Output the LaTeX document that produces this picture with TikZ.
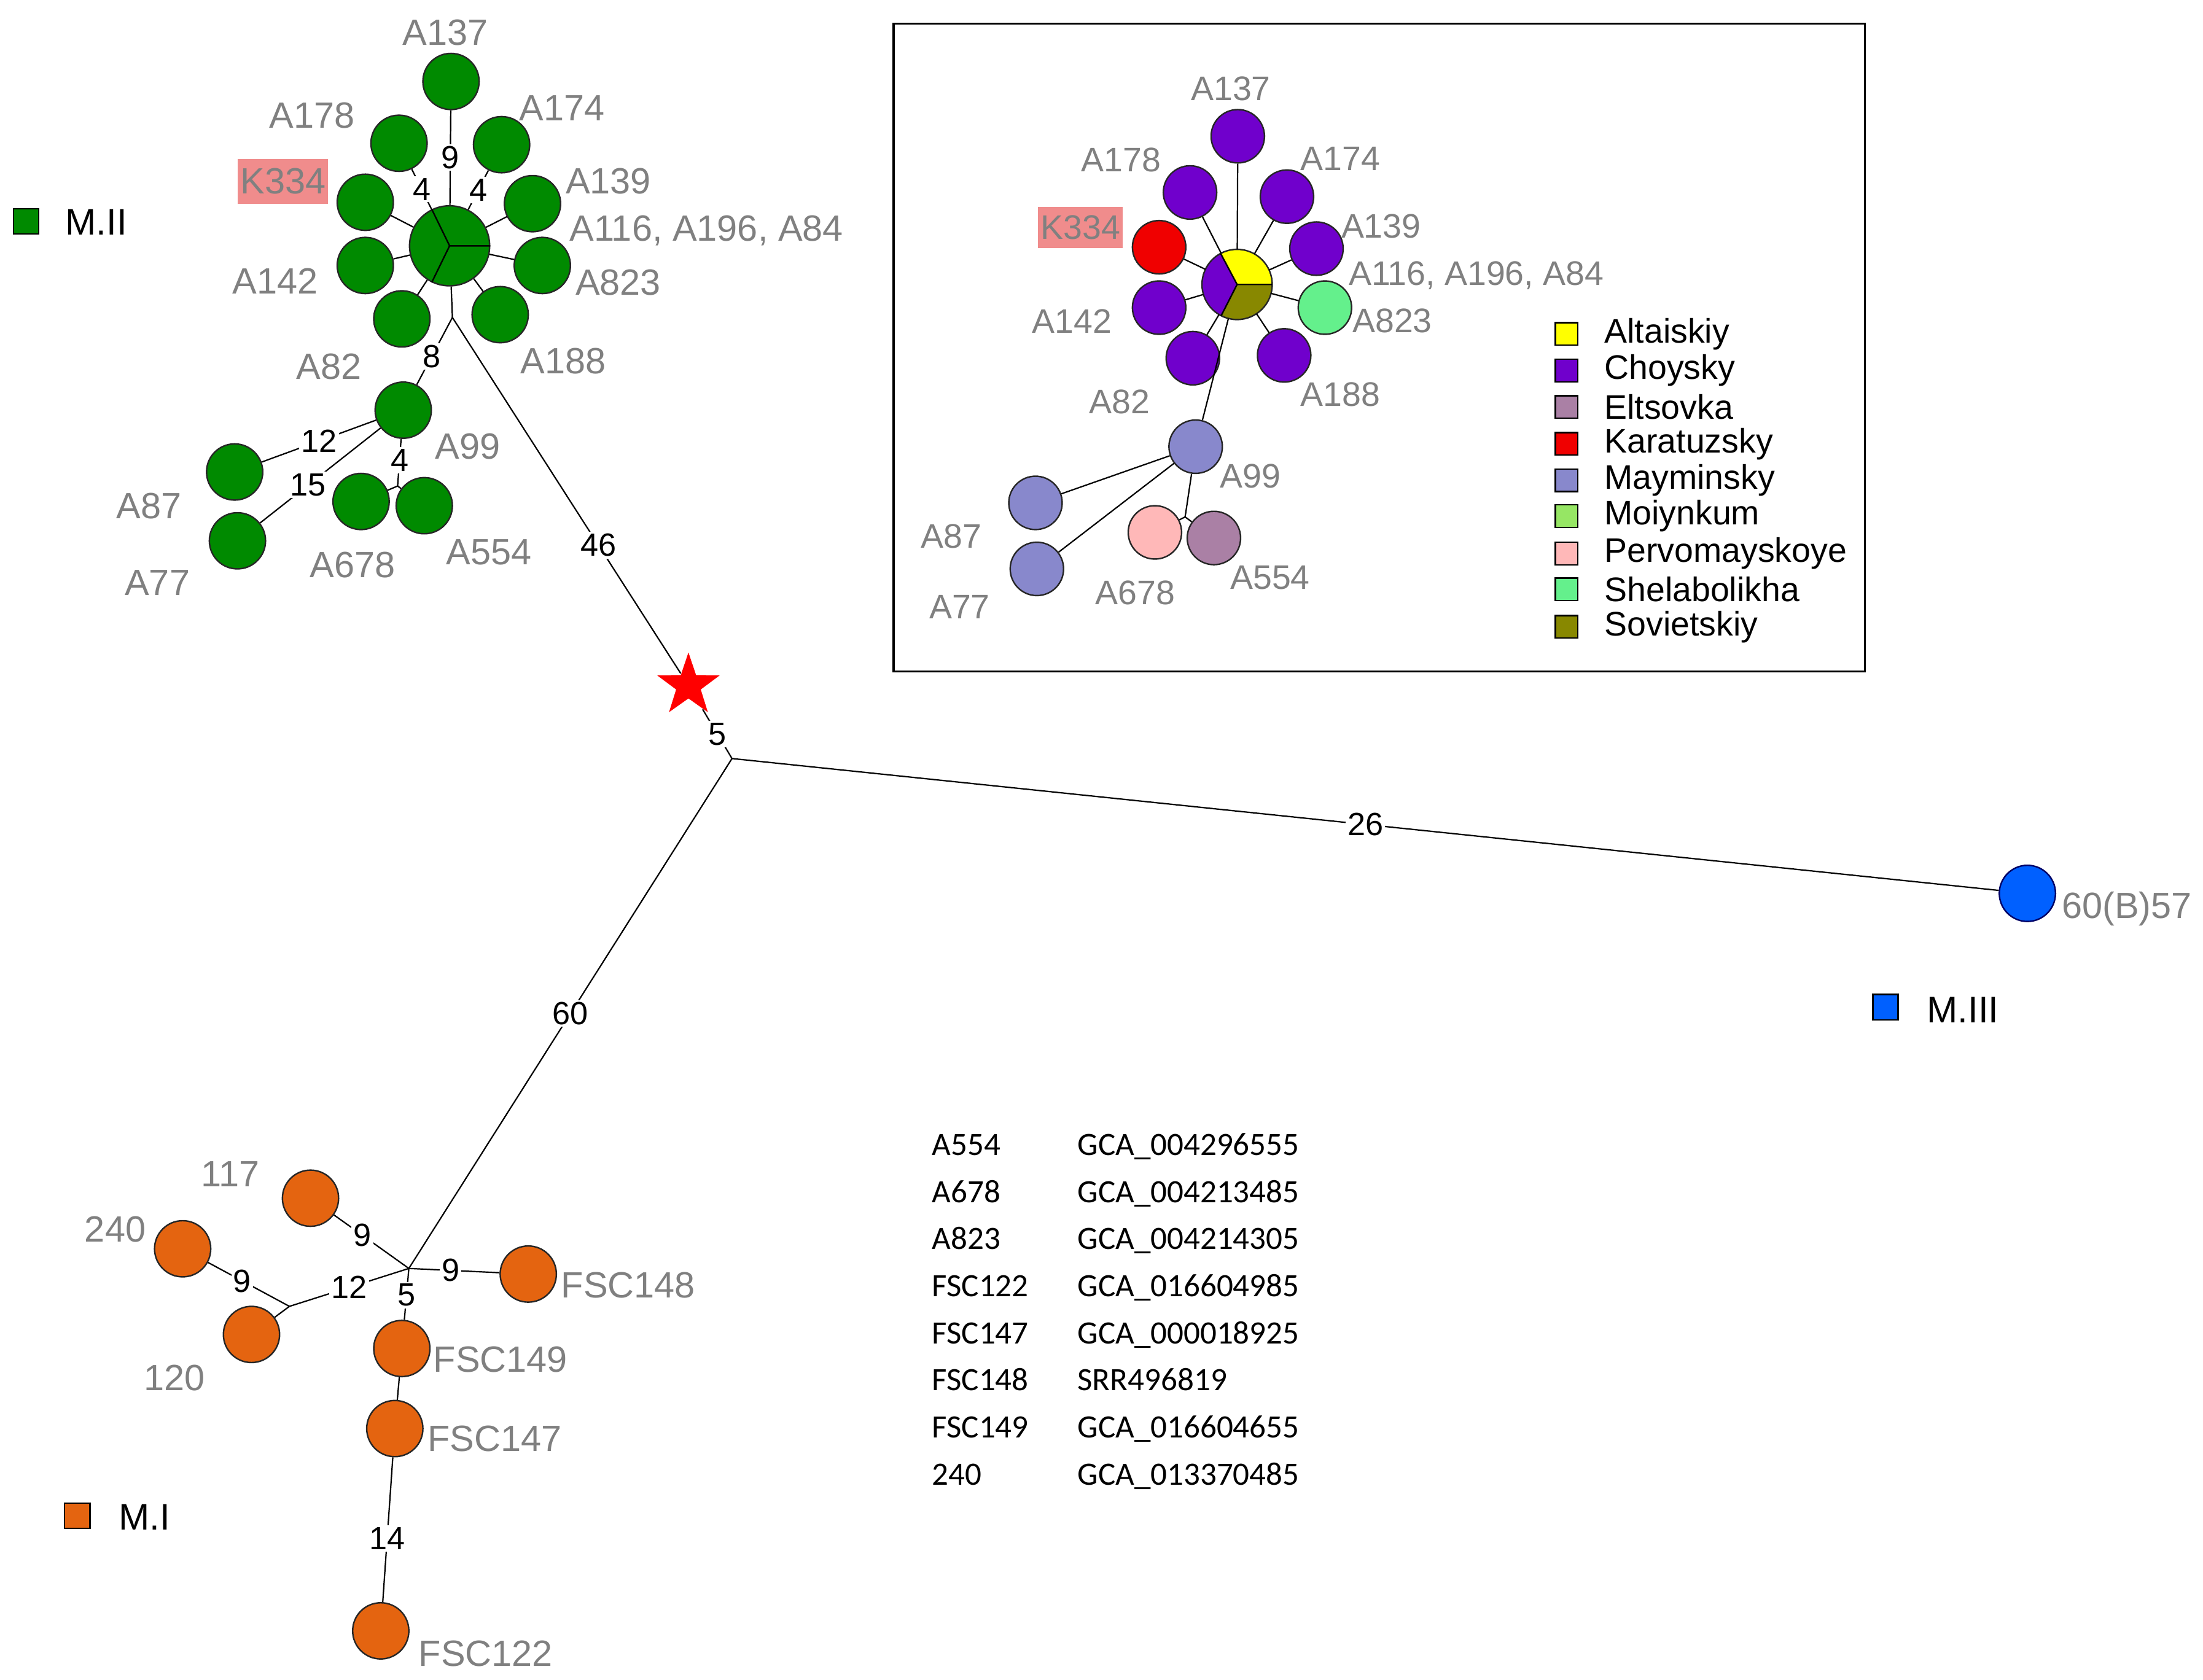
\documentclass[tikz,border=0pt]{standalone}
\usepackage{fontspec}
\setmainfont{Liberation Sans}
\newfontfamily\tabfont{Carlito}
\usetikzlibrary{shapes.geometric}

\definecolor{mgreen}{RGB}{0,138,0}
\definecolor{morange}{RGB}{228,100,16}
\definecolor{mblue}{RGB}{0,96,255}
\definecolor{labgray}{RGB}{128,128,128}
\definecolor{kpink}{RGB}{240,140,140}
\definecolor{altai}{RGB}{255,255,0}
\definecolor{choy}{RGB}{112,0,204}
\definecolor{elts}{RGB}{170,128,165}
\definecolor{karat}{RGB}{240,0,0}
\definecolor{maym}{RGB}{136,136,204}
\definecolor{moiyn}{RGB}{150,230,100}
\definecolor{perv}{RGB}{255,184,184}
\definecolor{shel}{RGB}{100,240,140}
\definecolor{sov}{RGB}{136,136,0}

\begin{document}
\begin{tikzpicture}[x=0.02cm,y=-0.02cm,line width=0.55pt]
\tikzstyle{st}=[circle,draw=black!85,line width=0.6pt,minimum size=0.8cm,inner sep=0pt]
\tikzstyle{ist}=[st,minimum size=0.76cm]
\tikzstyle{lab}=[text=labgray,inner sep=0pt,font=\fontsize{14.8}{16}\selectfont]
\tikzstyle{ilab}=[text=labgray,inner sep=0pt,font=\fontsize{13.8}{15}\selectfont]
\tikzstyle{num}=[fill=white,inner sep=0.8pt,font=\fontsize{13}{14}\selectfont]
\tikzstyle{legbox}=[draw=black,line width=0.6pt,minimum size=0.32cm,inner sep=0pt]
\tikzstyle{legtxt}=[anchor=west,inner sep=0pt,font=\fontsize{13.8}{15}\selectfont]
\tikzstyle{grp}=[draw=black,line width=0.6pt,minimum size=0.36cm,inner sep=0pt]
\tikzstyle{grptxt}=[anchor=west,inner sep=0pt,font=\fontsize{15}{17}\selectfont]
\tikzstyle{tabtxt}=[anchor=base west,inner sep=0pt,font=\tabfont\fontsize{13.2}{15}\selectfont]
\useasboundingbox (0,0) rectangle (1568,1196);

% M.II
\node[st,fill=mgreen,minimum size=1.14cm] (h) at (320,175) {};
\draw[line width=0.6pt] (h.center) -- (h.0) (h.center) -- (h.116) (h.center) -- (h.244);
\node[st,fill=mgreen] (a137) at (321,58) {};
\node[st,fill=mgreen] (a178) at (284,102) {};
\node[st,fill=mgreen] (a174) at (357,103) {};
\node[st,fill=mgreen] (k334) at (260,144) {};
\node[st,fill=mgreen] (a139) at (379,145) {};
\node[st,fill=mgreen] (a142) at (260,189) {};
\node[st,fill=mgreen] (a823) at (386,189) {};
\node[st,fill=mgreen] (a82) at (286,227) {};
\node[st,fill=mgreen] (a188) at (356,224) {};
\coordinate (j1) at (322,226);
\node[st,fill=mgreen] (a99) at (287,292) {};
\node[st,fill=mgreen] (a87) at (167,336) {};
\node[st,fill=mgreen] (a77) at (169,385) {};
\coordinate (j2) at (283,346);
\node[st,fill=mgreen] (a678) at (257,357) {};
\node[st,fill=mgreen] (a554) at (302,360) {};

\draw (h) -- node[num] (e9) {9} (a137);
\draw (h) -- node[num] (e4a) {4} (a178);
\draw (h) -- node[num] (e4b) {4} (a174);
\draw (h) -- (k334);
\draw (h) -- (a139);
\draw (h) -- (a142);
\draw (h) -- (a823);
\draw (h) -- (a82);
\draw (h) -- (a188);
\draw (h) -- (j1);
\draw (j1) -- node[num,pos=0.58] (e8) {8} (a99);
\draw (a99) -- node[num] (e12) {12} (a87);
\draw (a99) -- node[num,pos=0.6] (e15) {15} (a77);
\draw (a99) -- node[num,pos=0.45] (e4c) {4} (j2);
\draw (j2) -- (a678);
\draw (j2) -- (a554);

\node[lab] (l137) at (317,23) {A137};
\node[lab] (l178) at (222,82) {A178};
\node[lab] (l174) at (400,77) {A174};
\node[lab,fill=kpink,inner xsep=1pt,minimum height=0.64cm] (lk334) at (201.5,129) {K334};
\node[lab] (l139) at (433,129) {A139};
\node[lab,anchor=west] (l116) at (405,164) {A116, A196, A84};
\node[lab] (l142) at (196,200) {A142};
\node[lab] (l823) at (440,201) {A823};
\node[lab] (l82) at (234,261) {A82};
\node[lab] (l188) at (401,257) {A188};
\node[lab] (l99) at (333,318) {A99};
\node[lab] (l87) at (106,360) {A87};
\node[lab] (l77) at (112,415) {A77};
\node[lab] (l678) at (251,402) {A678};
\node[lab] (l554) at (348,393) {A554};

% root and long branches
\node[star,star points=5,star point ratio=2.55,fill=red,minimum size=0.94cm,inner sep=0pt] (rt) at (490,488) {};
\coordinate (j0) at (521,540);
\coordinate (j3) at (291,903);
\node[st,fill=mblue,draw=blue!40!black] (b57) at (1443,636) {};
\draw (j1) -- node[num,pos=0.64] (e46) {46} (rt);
\draw (rt) -- node[num] (e5a) {5} (j0);
\draw (j0) -- node[num] (e26) {26} (b57);
\draw (j0) -- node[num] (e60) {60} (j3);
\node[lab,anchor=west] (l57) at (1467,647) {60(B)57};

% M.I
\node[st,fill=morange] (o117) at (221,853) {};
\node[st,fill=morange] (o240) at (130,889) {};
\node[st,fill=morange] (o120) at (179,950) {};
\node[st,fill=morange] (f148) at (376,907) {};
\node[st,fill=morange] (f149) at (286,960) {};
\node[st,fill=morange] (f147) at (281,1017) {};
\node[st,fill=morange] (f122) at (271,1161) {};
\coordinate (j4) at (206,930);
\draw (o117) -- node[num,pos=0.38] (e9a) {9} (j3);
\draw (j3) -- node[num,pos=0.46] (e9b) {9} (f148);
\draw (j3) -- node[num] (e12a) {12} (j4);
\draw (j4) -- node[num,pos=0.58] (e9c) {9} (o240);
\draw (j4) -- (o120);
\draw (j3) -- node[num,pos=0.52] (e5b) {5} (f149);
\draw (f149) -- (f147);
\draw (f147) -- node[num,pos=0.56] (e14) {14} (f122);

\node[lab] (l117) at (164,836) {117};
\node[lab] (l240) at (82,875) {240};
\node[lab] (l120) at (124,981) {120};
\node[lab,anchor=west] (l148) at (399,915) {FSC148};
\node[lab,anchor=west] (l149) at (308,968) {FSC149};
\node[lab,anchor=west] (l147) at (304,1024) {FSC147};
\node[lab,anchor=west] (l122) at (297.5,1177) {FSC122};

% group keys
\node[grp,fill=mgreen] (g2) at (18.5,157.5) {};
\node[grptxt] (g2t) at (46,158) {M.II};
\node[grp,fill=mblue] (g3) at (1342,717) {};
\node[grptxt] (g3t) at (1371,719) {M.III};
\node[grp,fill=morange] (g1) at (55,1079) {};
\node[grptxt] (g1t) at (84,1080) {M.I};

% inset
\draw[line width=0.8pt] (636,17) rectangle (1327.5,478);
\node[circle,minimum size=1cm,inner sep=0pt,outer sep=0pt] (ih) at (880.5,202.5) {};
\fill[altai] (ih.center) -- (ih.0) arc[start angle=0,end angle=118,radius=0.5cm] -- cycle;
\fill[choy] (ih.center) -- (ih.118) arc[start angle=118,end angle=243,radius=0.5cm] -- cycle;
\fill[sov] (ih.center) -- (ih.243) arc[start angle=243,end angle=360,radius=0.5cm] -- cycle;
\draw[line width=0.6pt,draw=black!85] (ih.center) circle[radius=0.5cm];
\draw[line width=0.6pt] (ih.center) -- (ih.0) (ih.center) -- (ih.118) (ih.center) -- (ih.243);
\node[ist,fill=choy] (i137) at (881,97) {};
\node[ist,fill=choy] (i178) at (847,137) {};
\node[ist,fill=choy] (i174) at (916,140) {};
\node[ist,fill=karat] (ik334) at (825,176) {};
\node[ist,fill=choy] (i139) at (937,177) {};
\node[ist,fill=choy] (i142) at (825,219) {};
\node[ist,fill=shel] (i823) at (943,219) {};
\node[ist,fill=choy] (i82) at (849,255) {};
\node[ist,fill=choy] (i188) at (914,253) {};
\node[ist,fill=maym] (i99) at (851,318) {};
\node[ist,fill=maym] (i87) at (737,358) {};
\node[ist,fill=maym] (i77) at (738,405) {};
\node[ist,fill=perv] (i678) at (822,379) {};
\node[ist,fill=elts] (i554) at (864,383) {};
\coordinate (ij) at (843.5,368);
\draw (ih) -- (i137);
\draw (ih) -- (i178);
\draw (ih) -- (i174);
\draw (ih) -- (ik334);
\draw (ih) -- (i139);
\draw (ih) -- (i142);
\draw (ih) -- (i823);
\draw (ih) -- (i82);
\draw (ih) -- (i188);
\draw (ih) -- (i99);
\draw (i99) -- (i87);
\draw (i99) -- (i77);
\draw (i99) -- (ij);
\draw (ij) -- (i678);
\draw (ij) -- (i554);

\node[ilab] (il137) at (876,63) {A137};
\node[ilab] (il178) at (798,114) {A178};
\node[ilab] (il174) at (954,113) {A174};
\node[ilab,fill=kpink,inner xsep=1pt,minimum height=0.58cm] (ilk334) at (769,162) {K334};
\node[ilab] (il139) at (983,161) {A139};
\node[ilab,anchor=west] (il116) at (959.5,196) {A116, A196, A84};
\node[ilab] (il142) at (763,228.5) {A142};
\node[ilab] (il823) at (991,228.5) {A823};
\node[ilab] (il82) at (797,286) {A82};
\node[ilab] (il188) at (954,281) {A188};
\node[ilab] (il99) at (890,339) {A99};
\node[ilab] (il87) at (677,382) {A87};
\node[ilab] (il77) at (683,432) {A77};
\node[ilab] (il678) at (808,422) {A678};
\node[ilab] (il554) at (904,411) {A554};

% legend
\node[legbox,fill=altai] (k1) at (1115,237.7) {};
\node[legtxt] (k1t) at (1141.5,237.7) {Altaiskiy};
\node[legbox,fill=choy] (k2) at (1115,263.8) {};
\node[legtxt] (k2t) at (1141.5,263.8) {Choysky};
\node[legbox,fill=elts] (k3) at (1115,289.8) {};
\node[legtxt] (k3t) at (1141.5,289.8) {Eltsovka};
\node[legbox,fill=karat] (k4) at (1115,315.9) {};
\node[legtxt] (k4t) at (1141.5,315.9) {Karatuzsky};
\node[legbox,fill=maym] (k5) at (1115,342) {};
\node[legtxt] (k5t) at (1141.5,342) {Mayminsky};
\node[legbox,fill=moiyn] (k6) at (1115,367.4) {};
\node[legtxt] (k6t) at (1141.5,367.4) {Moiynkum};
\node[legbox,fill=perv] (k7) at (1115,394.1) {};
\node[legtxt] (k7t) at (1141.5,394.1) {Pervomayskoye};
\node[legbox,fill=shel] (k8) at (1115,419.6) {};
\node[legtxt] (k8t) at (1141.5,419.6) {Shelabolikha};
\node[legbox,fill=sov] (k9) at (1115,446.2) {};
\node[legtxt] (k9t) at (1141.5,446.2) {Sovietskiy};

% accessions
\node[tabtxt] (t1a) at (663,822.5) {A554};
\node[tabtxt] (t1b) at (766.5,822.5) {GCA\_004296555};
\node[tabtxt] (t2a) at (663,856) {A678};
\node[tabtxt] (t2b) at (766.5,856) {GCA\_004213485};
\node[tabtxt] (t3a) at (663,889.5) {A823};
\node[tabtxt] (t3b) at (766.5,889.5) {GCA\_004214305};
\node[tabtxt] (t4a) at (663,923) {FSC122};
\node[tabtxt] (t4b) at (766.5,923) {GCA\_016604985};
\node[tabtxt] (t5a) at (663,956.5) {FSC147};
\node[tabtxt] (t5b) at (766.5,956.5) {GCA\_000018925};
\node[tabtxt] (t6a) at (663,990) {FSC148};
\node[tabtxt] (t6b) at (766.5,990) {SRR496819};
\node[tabtxt] (t7a) at (663,1023.5) {FSC149};
\node[tabtxt] (t7b) at (766.5,1023.5) {GCA\_016604655};
\node[tabtxt] (t8a) at (663,1057) {240};
\node[tabtxt] (t8b) at (766.5,1057) {GCA\_013370485};
\end{tikzpicture}
\end{document}
